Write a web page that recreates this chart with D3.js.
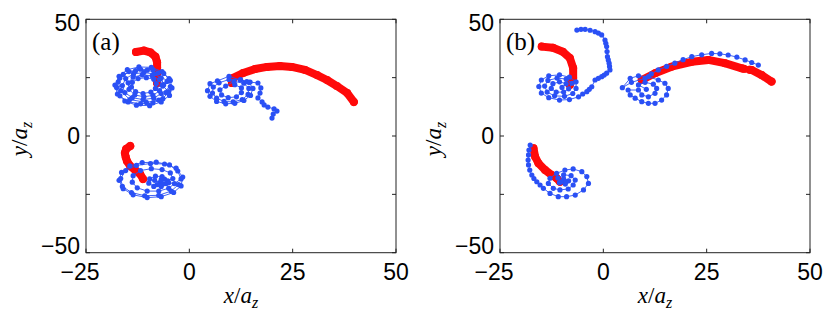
<!DOCTYPE html>
<html>
<head>
<meta charset="utf-8">
<script src="https://cdn.jsdelivr.net/npm/d3@7"></script>
<style>
  body { margin: 0; background: #fff; }
  svg { display: block; }
  .tick-label { font-family: "Liberation Sans", Arial, sans-serif; font-size: 23px; fill: #000; }
  .ax-label { font-family: "Liberation Serif", "DejaVu Serif", serif; font-size: 23px; fill: #000; }
  .panel-label { font-family: "Liberation Serif", "DejaVu Serif", serif; font-size: 25px; fill: #000; }
</style>
</head>
<body>
<svg id="chart" width="830" height="320"></svg>
<script>
// axis ticks
var xTicks = [-25, 0, 25, 50];
var yTicks = [-50, -25, 0, 25, 50];
var yTickLabels = [-50, 0, 50];
var panelNames = ["(a)", "(b)"];

// panel (a) - red (dense) trajectories
var redA1 = [[-12.9,36.0],[-11.0,36.6],[-9.4,35.8],[-8.2,34.0],[-7.8,31.6],[-7.8,29.4],[-7.8,27.4],[-7.8,25.0],[-7.8,22.7]];
var redA2 = [[10.3,22.7],[10.6,24.9],[13.0,27.0],[15.9,28.7],[18.8,29.6],[21.9,30.0],[24.8,29.6],[28.0,28.3],[30.9,26.1],[33.3,24.0],[35.7,21.4],[38.2,18.4],[39.8,14.6]];
var redA3 = [[-14.3,-4.3],[-15.3,-5.6],[-15.6,-7.3],[-15.4,-9.0],[-15.1,-10.7],[-14.3,-12.9],[-13.1,-14.6],[-11.9,-16.3],[-11.2,-18.4]];

// panel (a) - blue trajectories
var blueA1 = [[-8.0,22.5],[-8.6,24.3],[-10.4,25.0],[-12.4,24.6],[-13.8,23.0],[-14.0,21.0],[-13.0,19.0],[-11.2,18.2],[-9.3,18.8],[-8.2,20.4],
  [-6.2,22.0],[-6.8,24.8],[-8.6,26.6],[-11.0,27.2],[-13.5,26.6],[-15.4,24.6],[-16.2,21.6],[-15.6,18.6],[-13.8,16.4],[-11.2,15.6],[-8.6,16.2],[-6.8,18.2],
  [-4.6,21.2],[-4.9,24.6],[-6.6,27.6],[-9.2,29.4],[-12.2,29.6],[-15.0,28.4],[-17.0,25.6],[-18.0,21.8],[-17.4,18.0],[-15.6,15.0],[-12.8,13.2],[-9.6,13.0],[-6.8,14.6],[-4.8,17.4],
  [-4.2,20.6],[-4.6,23.8],[-6.2,26.8],[-8.8,28.4],[-11.8,28.6],[-14.6,27.6],[-16.8,24.8],[-17.6,20.8],[-16.8,17.2],[-14.8,14.6],[-11.8,13.8],[-8.8,14.2],[-6.4,16.0],[-5.0,19.0],
  [-6.6,21.8],[-7.2,24.2],[-9.0,25.8],[-11.4,26.2],[-13.6,25.2],[-14.8,22.8],[-14.6,20.0],[-13.2,17.6],[-11.0,16.8],[-8.8,17.4],[-7.2,19.4],[-6.4,21.4],
  [-5.4,23.4],[-7.6,27.0],[-10.2,28.2],[-13.0,28.0],[-16.0,26.4],[-17.2,23.2],[-16.6,19.4],[-14.4,15.6],[-10.4,14.4],[-7.4,15.4],[-5.6,18.6]];
var blueA2 = [[11.0,22.0],[12.6,20.6],[12.6,18.6],[11.4,16.8],[9.4,16.4],[7.8,17.6],[7.4,19.8],[8.8,21.4],
  [10.8,23.4],[13.2,22.6],[14.4,20.4],[14.2,17.8],[12.8,15.6],[10.6,14.6],[8.4,14.8],[6.6,16.2],[5.6,18.4],[5.8,21.0],[7.2,22.8],[9.6,24.2],
  [12.4,24.2],[14.4,23.0],[15.4,20.4],[14.8,17.4],[13.2,15.2],[11.0,14.0],[8.8,13.8],[6.6,14.8],[5.0,17.0],[4.4,19.4],[5.0,22.4],[6.8,23.6],[9.6,25.6],
  [12.3,24.0],[13.9,23.3],[14.7,23.1],[16.6,22.7],[17.3,20.6],[17.1,18.4],[16.6,16.3],[17.6,14.6],[18.1,13.3],[19.0,12.4],[20.5,11.6],[21.2,10.7],[20.3,9.4],[20.0,7.7]];
var blueA3 = [[-6.0,-18.5],[-6.6,-17.4],[-8.2,-17.2],[-9.6,-18.4],[-9.8,-20.2],[-8.6,-21.6],[-6.8,-21.6],[-5.6,-20.4],[-5.2,-19.2],
  [-4.0,-18.2],[-4.6,-15.8],[-6.6,-14.4],[-9.2,-14.0],[-11.8,-14.8],[-13.6,-17.0],[-13.8,-19.8],[-12.6,-22.2],[-10.2,-23.6],[-7.4,-23.6],[-5.0,-22.4],[-3.6,-20.4],
  [-2.0,-18.4],[-2.8,-15.0],[-4.8,-12.4],[-8.0,-11.2],[-11.4,-11.4],[-14.4,-12.8],[-16.4,-15.6],[-17.0,-19.0],[-16.0,-22.6],[-13.6,-25.2],[-10.2,-26.4],[-6.8,-26.0],[-3.8,-24.2],[-2.0,-21.4],
  [-1.6,-17.6],[-3.2,-13.8],[-6.0,-12.0],[-9.4,-11.8],[-12.8,-12.6],[-15.4,-14.8],[-16.6,-18.2],[-16.2,-21.6],[-14.0,-24.2],[-10.8,-25.6],[-7.4,-25.4],[-4.4,-23.6],[-2.6,-20.8],
  [-5.0,-20.0],[-7.0,-19.8],[-8.4,-19.0],[-6.4,-20.6],[-7.8,-20.8],[-6.8,-18.6]];

// panel (b) - red trajectories
var redB1 = [[-14.9,38.3],[-12.2,37.8],[-9.8,36.1],[-8.1,33.4],[-7.3,29.1],[-7.3,24.9],[-8.1,21.9]];
var redB2a = [[9.3,24.0],[12.5,26.9],[16.5,29.7],[21.4,31.8],[25.4,32.6],[29.4,31.2],[33.5,29.0],[34.0,28.8]];
var redB2b = [[35.4,28.4],[35.9,28.3],[38.3,26.1],[40.7,23.3]];
var redB3 = [[-16.9,-5.3],[-16.5,-8.9],[-15.7,-11.7],[-14.1,-14.6],[-12.5,-16.7],[-11.3,-18.1],[-10.5,-19.6]];

// panel (b) - blue trajectories
var blueB1 = [[-10.0,20.8],[-9.0,22.4],[-10.6,23.2],[-12.2,22.4],[-12.6,20.4],[-11.4,18.8],[-9.6,18.8],[-8.4,20.2],
  [-7.6,22.6],[-9.0,24.4],[-11.2,24.8],[-13.4,23.8],[-14.2,21.4],[-13.6,18.8],[-11.8,17.2],[-9.4,17.0],[-7.4,18.2],[-6.6,20.4],
  [-6.6,23.2],[-8.2,25.2],[-10.6,26.2],[-13.2,25.8],[-15.0,24.0],[-15.6,21.2],[-15.0,18.4],[-13.2,16.4],[-10.6,15.4],[-8.2,15.6],[-6.0,16.8],
  [-5.0,18.0],[-4.0,19.0],[-3.4,20.0],[-2.8,21.1],[-2.0,24.0],[-1.2,24.7],[-0.4,25.4],[0.2,26.1],[0.8,26.9],[1.6,28.3],[1.5,29.8],[1.4,31.2],[1.2,32.6],[1.0,34.0],
  [0.9,36.2],[0.8,38.3],[0.6,39.7],[0.4,41.1],[-0.4,43.3],[-1.2,44.1],[-2.0,44.7],[-3.2,45.3],[-4.4,45.7],[-5.4,45.7],[-6.4,45.4]];
var blueB2 = [[10.4,20.0],[8.5,21.9],[10.1,23.0],[12.1,22.2],[12.9,20.4],[12.5,18.3],[10.9,16.8],[9.3,17.6],[8.5,19.7],
  [6.0,19.7],[6.5,17.6],[7.7,16.2],[9.3,14.7],[10.9,14.0],[12.5,14.0],[14.1,15.4],[15.3,17.6],[15.7,20.4],[14.9,22.6],[13.3,24.0],[10.9,25.4],[8.5,25.8],[6.5,24.7],[4.6,20.7],[6.8,23.0],
  [10.1,24.7],[11.6,26.6],[13.3,28.3],[15.3,29.8],[17.3,31.2],[19.3,32.7],[21.4,34.0],[23.8,34.8],[26.2,35.4],[28.2,35.2],[30.2,34.7],[32.3,33.8],[34.3,32.6],[35.9,31.5],[37.5,30.4]];
var blueB3 = [[-17.7,-3.9],[-18.0,-6.0],[-18.1,-8.1],[-18.2,-10.3],[-18.1,-12.4],[-17.8,-14.6],[-17.3,-16.7],[-16.8,-18.2],[-16.1,-19.6],[-15.3,-21.0],[-14.5,-22.4],[-12.9,-24.6],[-10.9,-26.0],[-8.9,-26.0],[-6.8,-25.3],[-4.8,-23.1],[-3.6,-20.3],[-4.0,-17.4],[-5.2,-15.3],[-7.3,-14.1],[-9.3,-14.6],[-11.3,-16.0],[-12.9,-18.1],[-13.3,-20.3],[-12.1,-22.4],[-10.5,-23.1],[-8.5,-22.7],[-7.3,-21.0],[-6.8,-18.9],[-7.8,-17.0],[-9.6,-16.6],[-11.0,-18.0],[-10.6,-20.0],[-9.2,-20.6],[-8.4,-19.2],[-9.6,-18.4],[-10.2,-19.6],[-9.0,-19.6]];

var panels = [
  { name: panelNames[0], left: 86, reds: [redA1, redA2, redA3], blues: [blueA1, blueA2, blueA3] },
  { name: panelNames[1], left: 500, reds: [redB1, redB2a, redB2b, redB3], blues: [blueB1, blueB2, blueB3] }
];

var svg = d3.select("#chart");
var plotW = 310, plotTop = 19.3, plotBottom = 252.7;
var blueCol = "#2a50f5", redCol = "#ff0a0a";

panels.forEach(function(p) {
  var x = d3.scaleLinear().domain([-25, 50]).range([p.left, p.left + plotW]);
  var y = d3.scaleLinear().domain([-50, 50]).range([plotBottom, plotTop]);
  var g = svg.append("g");

  var line = d3.line().x(function(d){ return x(d[0]); }).y(function(d){ return y(d[1]); });

  // red trajectories: dense markers
  p.reds.forEach(function(r) {
    g.append("path").attr("d", line(r))
      .attr("fill", "none").attr("stroke", redCol)
      .attr("stroke-width", 8).attr("stroke-linecap", "round").attr("stroke-linejoin", "round");
    g.selectAll(null).data(r).enter().append("circle")
      .attr("cx", function(d){ return x(d[0]); })
      .attr("cy", function(d){ return y(d[1]); })
      .attr("r", 4).attr("fill", redCol);
  });

  // blue trajectories: thin line + dots
  p.blues.forEach(function(b) {
    g.append("path").attr("d", line(b))
      .attr("fill", "none").attr("stroke", blueCol).attr("stroke-width", 0.9);
    g.selectAll(null).data(b).enter().append("circle")
      .attr("cx", function(d){ return x(d[0]); })
      .attr("cy", function(d){ return y(d[1]); })
      .attr("r", 2.6).attr("fill", blueCol);
  });

  // box + inward ticks
  g.append("rect").attr("x", p.left).attr("y", plotTop)
    .attr("width", plotW).attr("height", plotBottom - plotTop)
    .attr("fill", "none").attr("stroke", "#222").attr("stroke-width", 1);

  xTicks.forEach(function(t) {
    g.append("line").attr("x1", x(t)).attr("x2", x(t)).attr("y1", plotBottom).attr("y2", plotBottom - 4).attr("stroke", "#222");
    g.append("line").attr("x1", x(t)).attr("x2", x(t)).attr("y1", plotTop).attr("y2", plotTop + 4).attr("stroke", "#222");
    var lbl = g.append("text").attr("class", "tick-label")
      .attr("x", x(t)).attr("y", 280).attr("text-anchor", "middle")
      .text(t < 0 ? "\u2212" + Math.abs(t) : t);
    if (t < 0) lbl.attr("dx", -6);
  });

  yTicks.forEach(function(t) {
    g.append("line").attr("x1", p.left).attr("x2", p.left + 4).attr("y1", y(t)).attr("y2", y(t)).attr("stroke", "#222");
    g.append("line").attr("x1", p.left + plotW).attr("x2", p.left + plotW - 4).attr("y1", y(t)).attr("y2", y(t)).attr("stroke", "#222");
  });

  yTickLabels.forEach(function(t) {
    var off = t === 50 ? 12 : (t === 0 ? 8 : 1);
    g.append("text").attr("class", "tick-label")
      .attr("x", p.left - 6).attr("y", y(t) + off).attr("text-anchor", "end")
      .text(t < 0 ? "\u2212" + Math.abs(t) : t);
  });

  // axis labels
  var xl = g.append("text").attr("class", "ax-label")
    .attr("x", p.left + plotW / 2).attr("y", 303).attr("text-anchor", "middle");
  xl.append("tspan").attr("font-style", "italic").text("x");
  xl.append("tspan").text("/");
  xl.append("tspan").attr("font-style", "italic").text("a");
  xl.append("tspan").attr("font-style", "italic").attr("font-size", "16px").attr("dy", 5).text("z");

  var yl = g.append("text").attr("class", "ax-label")
    .attr("transform", "translate(" + (p.left - 59) + ",139) rotate(-90)")
    .attr("text-anchor", "middle");
  yl.append("tspan").attr("font-style", "italic").text("y");
  yl.append("tspan").text("/");
  yl.append("tspan").attr("font-style", "italic").text("a");
  yl.append("tspan").attr("font-style", "italic").attr("font-size", "16px").attr("dy", 5).text("z");

  g.append("text").attr("class", "panel-label")
    .attr("x", p.left + 6).attr("y", 50).text(p.name);
});
</script>
</body>
</html>
